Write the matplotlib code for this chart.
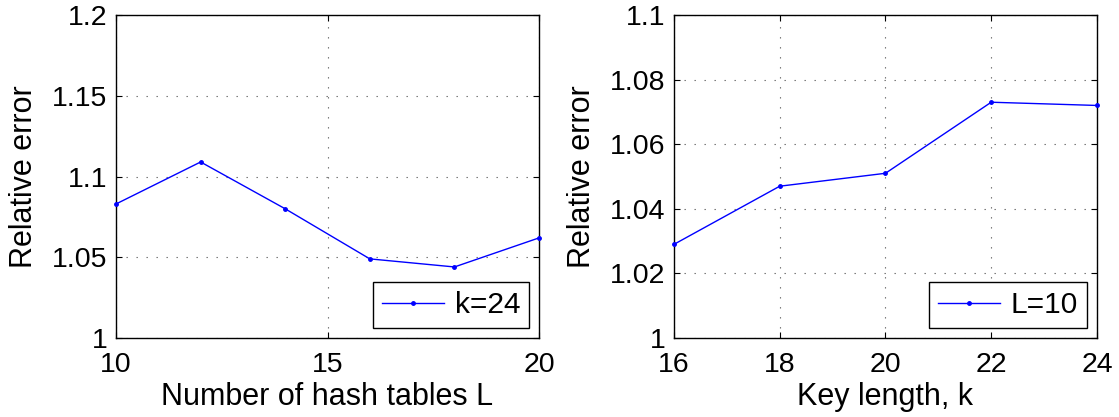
#!/usr/bin/env python3
"""
Relative error vs number of hash tables L and vs key length k.
Two side-by-side panels drawn in a MATLAB-like style.
"""

import matplotlib
matplotlib.use('Agg')
import matplotlib.pyplot as plt

plt.rcParams['font.family'] = ['Liberation Sans', 'DejaVu Sans']

# Left panel: varying number of hash tables, k fixed
num_tables = [10, 12, 14, 16, 18, 20]
err_by_tables = [1.083, 1.109, 1.080, 1.049, 1.044, 1.062]
tables_xticks = [10, 15, 20]
tables_yticks = [1, 1.05, 1.1, 1.15, 1.2]
tables_yticklabels = ['1', '1.05', '1.1', '1.15', '1.2']

# Right panel: varying key length, L fixed
key_length = [16, 18, 20, 22, 24]
err_by_key = [1.029, 1.047, 1.051, 1.073, 1.072]
key_xticks = [16, 18, 20, 22, 24]
key_yticks = [1, 1.02, 1.04, 1.06, 1.08, 1.1]
key_yticklabels = ['1', '1.02', '1.04', '1.06', '1.08', '1.1']


def style_axis(ax, xticks, yticks, yticklabels):
    ax.set_xticks(xticks)
    ax.set_xticklabels([str(t) for t in xticks])
    ax.set_yticks(yticks)
    ax.set_yticklabels(yticklabels)
    ax.tick_params(direction='in', top=True, right=True, labelsize=20.5,
                   length=4, width=0.8)
    ax.tick_params(axis='x', pad=10)
    ax.tick_params(axis='y', pad=6)
    ax.grid(True, linestyle=(0, (1.2, 7.8)), color='#666666', linewidth=0.8)
    for spine in ax.spines.values():
        spine.set_linewidth(1.0)


fig = plt.figure(figsize=(11.19, 4.17), dpi=100)
ax1 = fig.add_axes([0.1037, 0.1894, 0.3780, 0.7746])
ax2 = fig.add_axes([0.6023, 0.1894, 0.3780, 0.7746])

ax1.plot(num_tables, err_by_tables, color='#0000ff', marker='.',
         markersize=5, linewidth=1.0, label='k=24', clip_on=False, zorder=3)
ax1.set_xlim(10, 20)
ax1.set_ylim(1, 1.2)
style_axis(ax1, tables_xticks, tables_yticks, tables_yticklabels)
ax1.set_xlabel('Number of hash tables L', fontsize=22, labelpad=3)
ax1.set_ylabel('Relative error', fontsize=22, labelpad=9.5)

ax2.plot(key_length, err_by_key, color='#0000ff', marker='.',
         markersize=5, linewidth=1.0, label='L=10', clip_on=False, zorder=3)
ax2.set_xlim(16, 24)
ax2.set_ylim(1, 1.1)
style_axis(ax2, key_xticks, key_yticks, key_yticklabels)
ax2.set_xlabel('Key length, k', fontsize=22, labelpad=3)
ax2.set_ylabel('Relative error', fontsize=22, labelpad=9.5)

for ax in (ax1, ax2):
    leg = ax.legend(loc='lower right', fontsize=21.5, fancybox=False,
                    framealpha=1, edgecolor='black', handlelength=2.1,
                    handletextpad=0.35, borderpad=0.3, borderaxespad=0.33)
    leg.get_frame().set_linewidth(1.0)

fig.savefig('out.png', dpi=100)
plt.close(fig)
